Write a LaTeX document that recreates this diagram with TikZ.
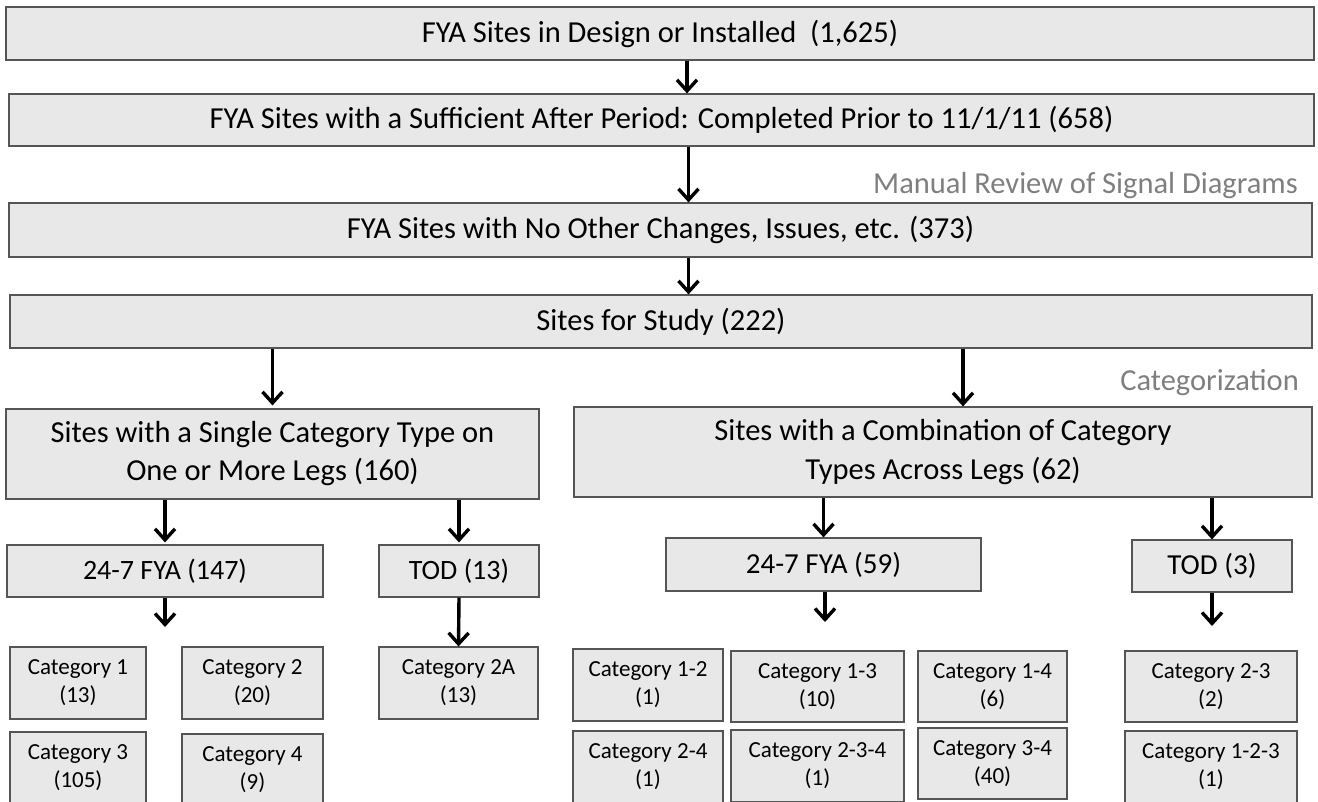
\documentclass[tikz,border=0pt]{standalone}
\usepackage{fontspec}
\setmainfont{Carlito}
\usetikzlibrary{arrows.meta}

\definecolor{boxfill}{HTML}{E8E8E8}
\definecolor{boxline}{HTML}{555555}
\definecolor{notegray}{HTML}{7F7F7F}

\begin{document}
\begin{tikzpicture}[x=1pt,y=-1pt]
	\tikzset{box/.style={draw=boxline, fill=boxfill, line width=1.2pt, inner sep=0pt, align=center},
		bigtext/.style={font=\fontsize{30.5}{38}\selectfont},
		midtext/.style={font=\fontsize{29}{34}\selectfont},
		cattext/.style={font=\fontsize{23}{28}\selectfont},
		note/.style={text=notegray, font=\fontsize{30.5}{36}\selectfont, anchor=base east, inner sep=0pt},
		flow/.style={draw=black, line width=3.4pt, -{Straight Barb[length=11pt,width=20pt,line width=3.4pt]}}}

	\useasboundingbox (0,0) rectangle (1318,801);
	\clip (0,0) rectangle (1318,801);

	\node [box, bigtext, minimum width=1308, minimum height=53] (installed) at (660,33.5)	{FYA Sites in Design or Installed\ \ (1,625)};
	\node [box, bigtext, minimum width=1305, minimum height=52] (period) at (661.5,120)	{FYA Sites with a Sufficient After Period: Completed Prior to 11/1/11 (658)};
	\node [box, bigtext, minimum width=1303, minimum height=54] (nochange) at (660.5,230)	{FYA Sites with No Other Changes, Issues, etc. (373)};
	\node [box, bigtext, minimum width=1302, minimum height=53] (study) at (661,321.5)	{Sites for Study (222)};

	\node [note] (review) at (1298,193)	{Manual Review of Signal Diagrams};
	\node [note] (categ) at (1299,390)	{Categorization};

	\node [box, bigtext, minimum width=533, minimum height=90] (single) at (272.5,454)	{Sites with a Single Category Type on\\One or More Legs (160)};
	\node [box, font=\fontsize{30.5}{39}\selectfont, minimum width=738, minimum height=90] (combo) at (943,452)	{Sites with a Combination of Category\\Types Across Legs (62)};

	\node [box, midtext, font=\fontsize{28}{34}\selectfont, minimum width=316, minimum height=52] (fya147) at (165,571)	{24-7 FYA (147)};
	\node [box, midtext, font=\fontsize{28}{34}\selectfont, minimum width=160, minimum height=52] (tod13) at (459,571)	{TOD (13)};
	\node [box, midtext, minimum width=315, minimum height=53] (fya59) at (823.5,564.5)	{24-7 FYA (59)};
	\node [box, midtext, minimum width=160, minimum height=52] (tod3) at (1212,566)	{TOD (3)};

	\node [box, cattext, minimum width=136, minimum height=72] (cat1) at (78,683)	{Category 1\\(13)};
	\node [box, cattext, minimum width=141, minimum height=72] (cat2) at (252.5,683)	{Category 2\\(20)};
	\node [box, cattext, minimum width=159, minimum height=72] (cat2a) at (458.5,683)	{Category 2A\\(13)};
	\node [box, cattext, minimum width=136, minimum height=72] (cat3) at (78,768)	{Category 3\\(105)};
	\node [box, cattext, minimum width=141, minimum height=72] (cat4) at (252.5,770)	{Category 4\\(9)};

	\node [box, cattext, minimum width=150, minimum height=72] (cat12) at (648,685)	{Category 1-2\\(1)};
	\node [box, cattext, minimum width=173, minimum height=71] (cat13) at (817.5,686.5)	{Category 1-3\\(10)};
	\node [box, cattext, minimum width=149, minimum height=71] (cat14) at (992.5,686.5)	{Category 1-4\\(6)};
	\node [box, cattext, minimum width=172, minimum height=71] (cat23) at (1211,686.5)	{Category 2-3\\(2)};
	\node [box, cattext, minimum width=150, minimum height=72] (cat24) at (648,767)	{Category 2-4\\(1)};
	\node [box, cattext, minimum width=173, minimum height=72] (cat234) at (817.5,766)	{Category 2-3-4\\(1)};
	\node [box, cattext, minimum width=149, minimum height=71] (cat34) at (992.5,763.5)	{Category 3-4\\(40)};
	\node [box, cattext, minimum width=172, minimum height=72] (cat123) at (1211,767)	{Category 1-2-3\\(1)};

	\coordinate (fya147end) at (165,627);
	\coordinate (fya59end) at (825,622);
	\coordinate (tod3end) at (1212,626);

	\draw [flow] ([xshift=27pt]installed.south) -- ([xshift=27pt]installed.south |- period.north);
	\draw [flow] ([xshift=27pt]period.south) -- ([xshift=27pt]period.south |- nochange.north);
	\draw [flow] ([xshift=28pt]nochange.south) -- ([xshift=28pt]nochange.south |- study.north);
	\draw [flow, shorten >=3pt] (study.south -| single.north) -- (single.north);
	\draw [flow] ([xshift=20pt]combo.north |- study.south) -- ([xshift=20pt]combo.north);
	\draw [flow, shorten >=2pt] (single.south -| fya147.north) -- (fya147.north);
	\draw [flow, shorten >=2pt] (single.south -| tod13.north) -- (tod13.north);
	\draw [flow] (combo.south -| fya59.north) -- (fya59.north);
	\draw [flow] (combo.south -| tod3.north) -- (tod3.north);
	\draw [flow] (fya147.south) -- (fya147end);
	\draw [flow] (tod13.south) -- (cat2a.north);
	\draw [flow] (fya59.south -| fya59end) -- (fya59end);
	\draw [flow] (tod3.south) -- (tod3end);
\end{tikzpicture}
\end{document}
